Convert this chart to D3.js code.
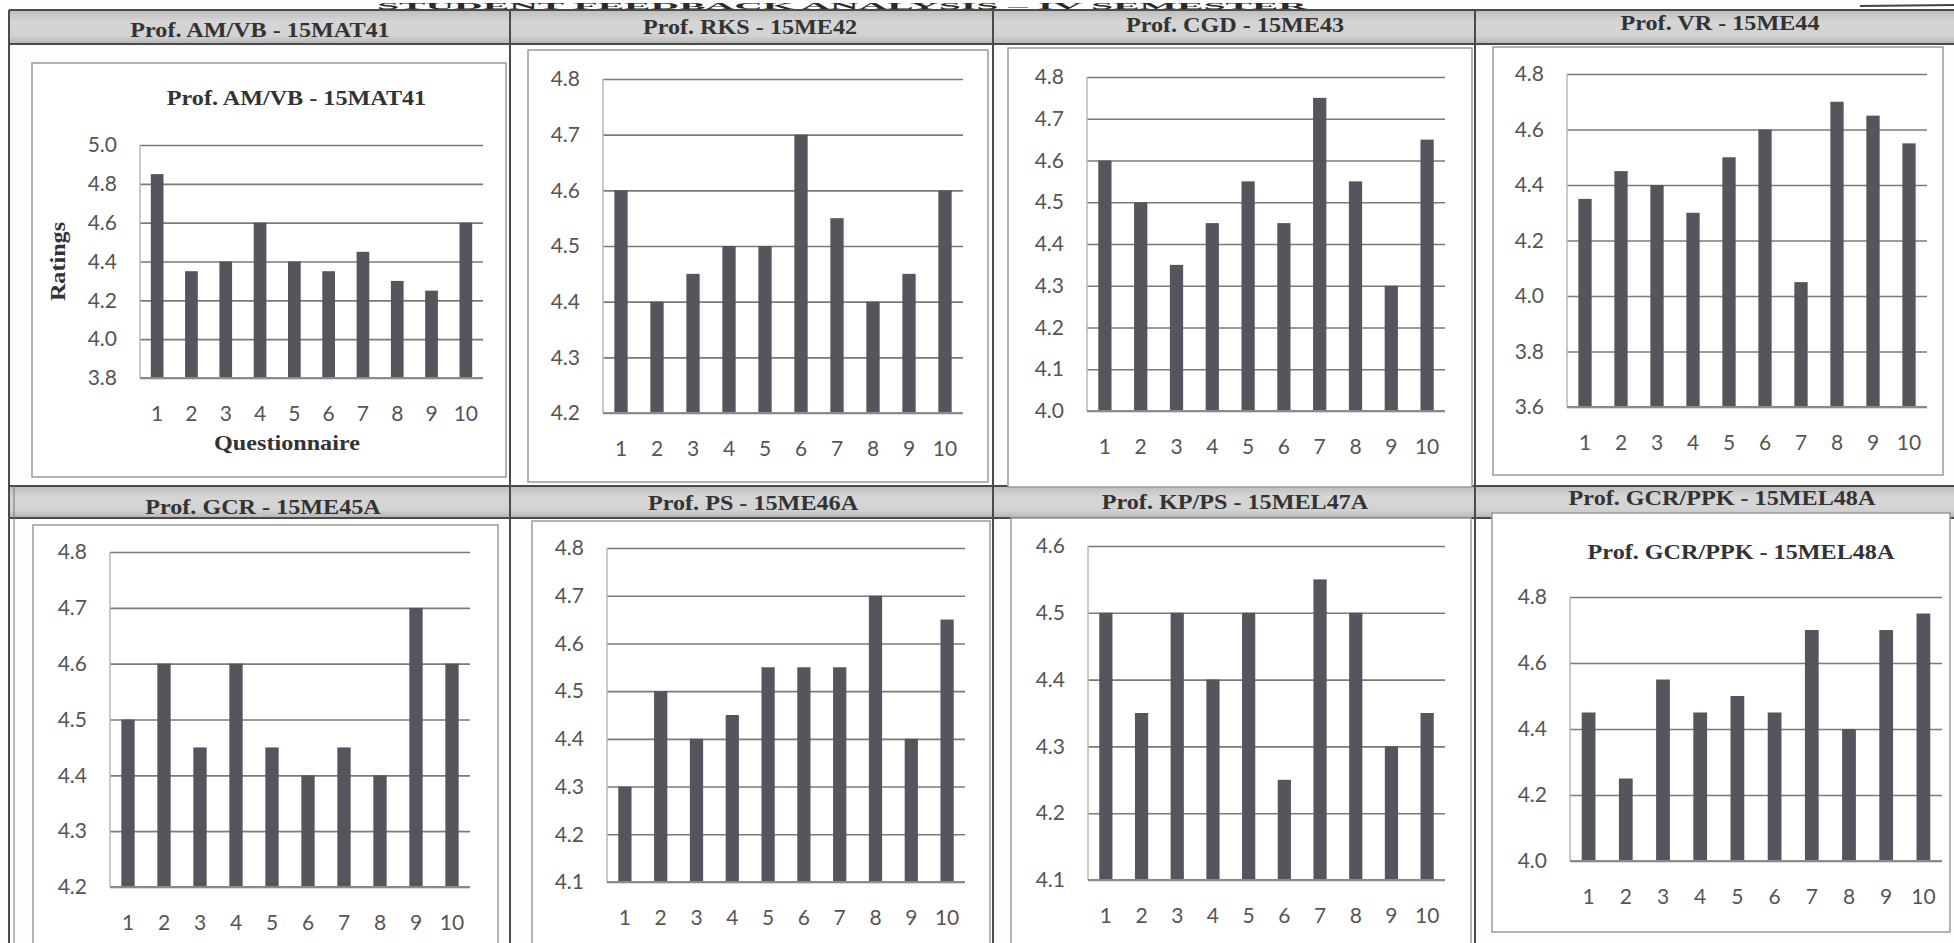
<!DOCTYPE html>
<html>
<head>
<meta charset="utf-8">
<script src="https://cdn.jsdelivr.net/npm/d3@7"></script>
<style>
  html, body { margin: 0; padding: 0; background: #fdfdfc; overflow: hidden; }
  svg { display: block; }
</style>
</head>
<body>
<svg id="chart" width="1954" height="943"></svg>
<script>
// ---------------- DATA ----------------
const categories = ["1", "2", "3", "4", "5", "6", "7", "8", "9", "10"];
const pageTitle = "STUDENT FEEDBACK ANALYSIS – IV SEMESTER";
const panelTitles = [
  "Prof. AM/VB - 15MAT41", "Prof. RKS - 15ME42", "Prof. CGD - 15ME43", "Prof. VR - 15ME44",
  "Prof. GCR - 15ME45A", "Prof. PS - 15ME46A", "Prof. KP/PS - 15MEL47A", "Prof. GCR/PPK - 15MEL48A"
];
const valuesAMVB   = [4.85, 4.35, 4.40, 4.60, 4.40, 4.35, 4.45, 4.30, 4.25, 4.60];
const valuesRKS    = [4.60, 4.40, 4.45, 4.50, 4.50, 4.70, 4.55, 4.40, 4.45, 4.60];
const valuesCGD    = [4.60, 4.50, 4.35, 4.45, 4.55, 4.45, 4.75, 4.55, 4.30, 4.65];
const valuesVR     = [4.35, 4.45, 4.40, 4.30, 4.50, 4.60, 4.05, 4.70, 4.65, 4.55];
const valuesGCR    = [4.50, 4.60, 4.45, 4.60, 4.45, 4.40, 4.45, 4.40, 4.70, 4.60];
const valuesPS     = [4.30, 4.50, 4.40, 4.45, 4.55, 4.55, 4.55, 4.70, 4.40, 4.65];
const valuesKPPS   = [4.50, 4.35, 4.50, 4.40, 4.50, 4.25, 4.55, 4.50, 4.30, 4.35];
const valuesGCRPPK = [4.45, 4.25, 4.55, 4.45, 4.50, 4.45, 4.70, 4.40, 4.70, 4.75];

const ticksAMVB   = [3.8, 4.0, 4.2, 4.4, 4.6, 4.8, 5.0];
const ticksRKS    = [4.2, 4.3, 4.4, 4.5, 4.6, 4.7, 4.8];
const ticksCGD    = [4.0, 4.1, 4.2, 4.3, 4.4, 4.5, 4.6, 4.7, 4.8];
const ticksVR     = [3.6, 3.8, 4.0, 4.2, 4.4, 4.6, 4.8];
const ticksGCR    = [4.2, 4.3, 4.4, 4.5, 4.6, 4.7, 4.8];
const ticksPS     = [4.1, 4.2, 4.3, 4.4, 4.5, 4.6, 4.7, 4.8];
const ticksKPPS   = [4.1, 4.2, 4.3, 4.4, 4.5, 4.6];
const ticksGCRPPK = [4.0, 4.2, 4.4, 4.6, 4.8];

const yAxisTitle = "Ratings";
const xAxisTitle = "Questionnaire";

// ---------------- LAYOUT ----------------
const panels = [
  { values: valuesAMVB, ticks: ticksAMVB, title: panelTitles[0], inner: panelTitles[0], axisTitles: true,
    head: { x: 260, y: 30 }, box: [32, 63, 506, 477], plot: [140, 145, 483, 378], innerY: 98 },
  { values: valuesRKS, ticks: ticksRKS, title: panelTitles[1],
    head: { x: 750, y: 27 }, box: [528, 50, 988, 482], plot: [603, 79, 963, 413] },
  { values: valuesCGD, ticks: ticksCGD, title: panelTitles[2],
    head: { x: 1235, y: 25 }, box: [1008, 48, 1472, 487], plot: [1087, 77, 1445, 411] },
  { values: valuesVR, ticks: ticksVR, title: panelTitles[3],
    head: { x: 1720, y: 23 }, box: [1493, 47, 1943, 475], plot: [1567, 74, 1927, 407] },
  { values: valuesGCR, ticks: ticksGCR, title: panelTitles[4],
    head: { x: 263, y: 507 }, box: [33, 525, 498, 960], plot: [110, 552, 470, 887] },
  { values: valuesPS, ticks: ticksPS, title: panelTitles[5],
    head: { x: 753, y: 503 }, box: [532, 521, 990, 960], plot: [607, 548, 965, 882] },
  { values: valuesKPPS, ticks: ticksKPPS, title: panelTitles[6],
    head: { x: 1235, y: 502 }, box: [1011, 518, 1471, 960], plot: [1088, 546, 1445, 880] },
  { values: valuesGCRPPK, ticks: ticksGCRPPK, title: panelTitles[7], inner: panelTitles[7],
    head: { x: 1722, y: 498 }, box: [1492, 513, 1950, 932], plot: [1570, 597, 1942, 861], innerY: 552 }
];

const svg = d3.select("#chart");
const serif = "'Liberation Serif', 'DejaVu Serif', serif";
const sans = "Lato, 'Open Sans', 'Liberation Sans', sans-serif";
const STRETCH = 1.15;

function stretch(sel, f) {
  sel.each(function () {
    const len = this.getComputedTextLength();
    d3.select(this).attr("textLength", len * f).attr("lengthAdjust", "spacingAndGlyphs");
  });
}

// gradient for header bands
const defs = svg.append("defs");
const grad = defs.append("linearGradient").attr("id", "hdr").attr("x1", 0).attr("y1", 0).attr("x2", 0).attr("y2", 1);
grad.append("stop").attr("offset", "0%").attr("stop-color", "#bdbdbd");
grad.append("stop").attr("offset", "35%").attr("stop-color", "#d6d6d6");
grad.append("stop").attr("offset", "75%").attr("stop-color", "#d2d2d2");
grad.append("stop").attr("offset", "100%").attr("stop-color", "#b5b5b5");

// page title (small strip above the table)
const pt = svg.append("text")
  .attr("x", 842).attr("y", 9)
  .attr("text-anchor", "middle")
  .attr("font-family", serif).attr("font-weight", "bold")
  .attr("font-size", 9).attr("fill", "#2a2a2a")
  .text(pageTitle);
pt.attr("textLength", 930).attr("lengthAdjust", "spacingAndGlyphs");
svg.append("line").attr("x1", 1860).attr("x2", 1954).attr("y1", 6).attr("y2", 5)
  .attr("stroke", "#444").attr("stroke-width", 2);

// header bands
const bandRows = [[10, 44], [486, 518]];
bandRows.forEach(([y0, y1]) => {
  svg.append("rect").attr("x", 9).attr("y", y0).attr("width", 1954 - 9).attr("height", y1 - y0)
    .attr("fill", "url(#hdr)");
  svg.append("line").attr("x1", 9).attr("x2", 1954).attr("y1", y0).attr("y2", y0)
    .attr("stroke", "#4a4a4a").attr("stroke-width", 2);
  svg.append("line").attr("x1", 9).attr("x2", 1954).attr("y1", y1).attr("y2", y1)
    .attr("stroke", "#4a4a4a").attr("stroke-width", 2);
});

// table vertical lines
[9, 510, 993, 1475].forEach(x => {
  svg.append("line").attr("x1", x).attr("x2", x).attr("y1", 10).attr("y2", 943)
    .attr("stroke", "#4a4a4a").attr("stroke-width", 2);
});
svg.append("line").attr("x1", 14).attr("x2", 14).attr("y1", 486).attr("y2", 943)
  .attr("stroke", "#777").attr("stroke-width", 1);

panels.forEach(p => {
  // header text
  const ht = svg.append("text")
    .attr("x", p.head.x).attr("y", p.head.y)
    .attr("text-anchor", "middle").attr("dominant-baseline", "central")
    .attr("font-family", serif).attr("font-weight", "bold")
    .attr("font-size", 21).attr("fill", "#333")
    .text(p.title);
  stretch(ht, STRETCH);

  // chart box
  const [bx0, by0, bx1, by1] = p.box;
  svg.append("rect").attr("x", bx0).attr("y", by0).attr("width", bx1 - bx0).attr("height", by1 - by0)
    .attr("fill", "#fff").attr("stroke", "#9a9a9a").attr("stroke-width", 1.5);

  const [px0, py0, px1, py1] = p.plot;
  const dom = [d3.min(p.ticks), d3.max(p.ticks)];
  const y = d3.scaleLinear().domain(dom).range([py1, py0]);
  const x = d3.scaleBand().domain(categories).range([px0, px1]).paddingInner(0.63).paddingOuter(0.315);

  const g = svg.append("g");

  // gridlines via axis
  const grid = g.append("g").attr("transform", `translate(${px0},0)`)
    .call(d3.axisRight(y).tickValues(p.ticks).tickSize(px1 - px0).tickFormat(""));
  grid.select(".domain").remove();
  grid.selectAll(".tick line").attr("stroke", "#7a7a7a").attr("stroke-width", 1.6);

  // left axis line of plot
  g.append("line").attr("x1", px0).attr("x2", px0).attr("y1", py0).attr("y2", py1)
    .attr("stroke", "#b8b8b8").attr("stroke-width", 1.5);

  // bars
  g.selectAll("rect.bar").data(p.values).join("rect")
    .attr("class", "bar")
    .attr("x", (d, i) => x(categories[i]))
    .attr("width", x.bandwidth())
    .attr("y", d => y(d))
    .attr("height", d => y(dom[0]) - y(d))
    .attr("fill", "#55555e");

  // bottom axis
  const xa = g.append("g").attr("transform", `translate(0,${py1})`)
    .call(d3.axisBottom(x).tickSize(0).tickPadding(0));
  xa.select(".domain").attr("stroke", "#8a8a8a").attr("stroke-width", 2)
    .attr("d", `M${px0},0H${px1}`);
  xa.selectAll(".tick text")
    .attr("font-family", sans).attr("font-size", 21).attr("fill", "#555")
    .attr("dy", null).attr("y", 34).attr("dominant-baseline", "central");

  // left axis labels
  const ya = g.append("g").attr("transform", `translate(${px0},0)`)
    .call(d3.axisLeft(y).tickValues(p.ticks).tickSize(0).tickPadding(23).tickFormat(d3.format(".1f")));
  ya.select(".domain").remove();
  ya.selectAll(".tick text")
    .attr("font-family", sans).attr("font-size", 21).attr("fill", "#555");

  // inner chart title
  if (p.inner) {
    const it = svg.append("text")
      .attr("x", (px0 + px1) / 2 - 15).attr("y", p.innerY)
      .attr("text-anchor", "middle").attr("dominant-baseline", "central")
      .attr("font-family", serif).attr("font-weight", "bold")
      .attr("font-size", 21).attr("fill", "#333")
      .text(p.inner);
    stretch(it, STRETCH);
  }
  if (p.axisTitles) {
    const yt = svg.append("text")
      .attr("transform", `translate(58,${(py0 + py1) / 2}) rotate(-90)`)
      .attr("text-anchor", "middle").attr("dominant-baseline", "central")
      .attr("font-family", serif).attr("font-weight", "bold")
      .attr("font-size", 21).attr("fill", "#333")
      .text(yAxisTitle);
    stretch(yt, STRETCH);
    const xt = svg.append("text")
      .attr("x", 287).attr("y", 443)
      .attr("text-anchor", "middle").attr("dominant-baseline", "central")
      .attr("font-family", serif).attr("font-weight", "bold")
      .attr("font-size", 21).attr("fill", "#333")
      .text(xAxisTitle);
    stretch(xt, STRETCH);
  }
});
</script>
</body>
</html>
